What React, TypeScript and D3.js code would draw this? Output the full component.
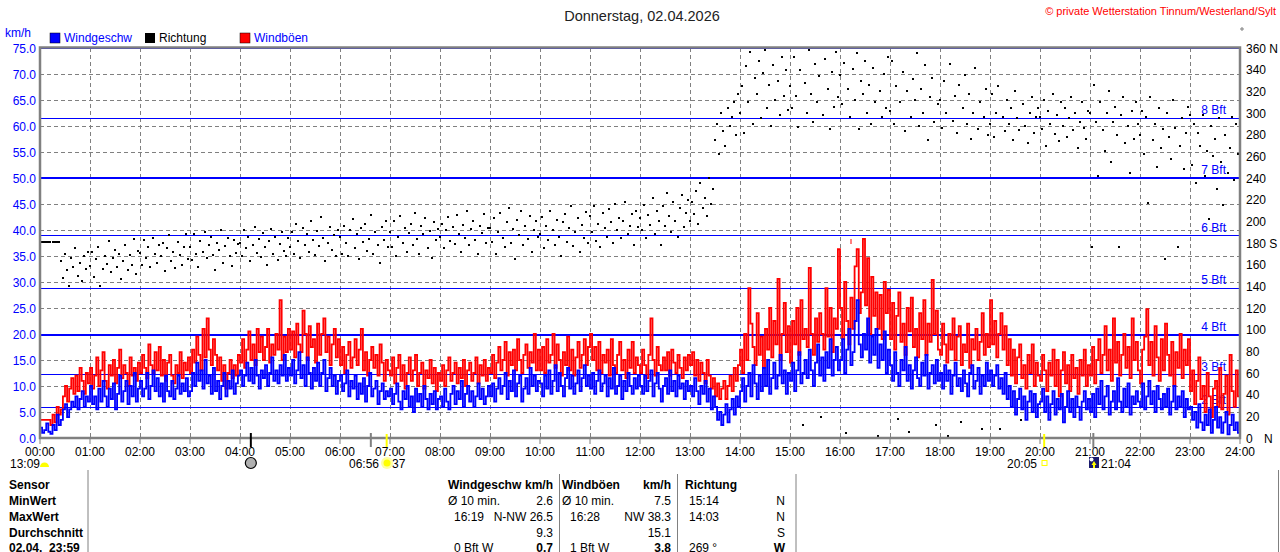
import * as d3 from "d3";

// 2.5-minute readings, 24 per hour, 00:00 .. 23:57
const windSpeed = [
  2.0, 1.0, 1.5, 2.8, 1.2, 0.8, 2.5, 1.5, 4.5, 2.5, 3.5, 5.5, 6.5, 4.0, 5.5, 7.0, 6.0, 8.0, 5.5, 7.5, 9.0, 6.0, 8.0, 7.0,
  10.0, 6.5, 8.0, 5.5, 9.5, 7.0, 11.0, 8.0, 6.0, 9.5, 7.5, 10.5, 5.5, 8.5, 12.0, 7.0, 9.0, 11.0, 6.5, 10.0, 8.0, 12.5, 7.0, 9.5,
  11.0, 8.0, 9.5, 12.5, 7.5, 10.0, 13.0, 9.0, 11.5, 8.0, 10.5, 7.0, 12.0, 9.0, 8.0, 11.0, 7.5, 9.5, 12.0, 8.5, 10.5, 9.0, 11.5, 8.0,
  9.0, 12.5, 10.0, 14.5, 11.0, 13.0, 9.5, 15.0, 10.5, 12.0, 8.5, 13.5, 9.0, 11.0, 7.5, 10.0, 12.5, 8.0, 11.0, 9.5, 13.0, 8.5, 10.5, 12.0,
  13.0, 10.0, 12.0, 14.5, 11.0, 13.5, 10.5, 15.0, 12.0, 9.5, 13.0, 11.5, 14.0, 10.0, 12.5, 15.5, 11.0, 13.0, 10.5, 14.0, 12.0, 16.0, 11.0, 13.5,
  12.0, 15.0, 10.5, 13.0, 16.5, 11.5, 14.0, 10.0, 15.5, 12.5, 9.5, 13.5, 11.0, 14.5, 10.0, 12.5, 15.0, 9.0, 11.5, 13.5, 10.0, 12.0, 8.5, 11.0,
  12.0, 9.0, 10.5, 13.0, 8.0, 11.0, 9.5, 12.0, 7.5, 10.5, 8.5, 11.5, 7.0, 10.0, 12.5, 8.0, 9.5, 11.0, 6.5, 9.0, 10.5, 7.5, 9.0, 8.0,
  9.5, 6.5, 8.5, 10.5, 7.0, 5.5, 9.0, 7.5, 10.0, 6.0, 8.0, 5.0, 9.5, 7.0, 8.5, 6.0, 10.0, 7.5, 5.5, 8.5, 6.5, 9.0, 5.5, 7.5,
  8.0, 6.0, 9.5, 7.0, 5.5, 8.5, 10.0, 6.5, 9.0, 7.5, 11.0, 6.0, 8.5, 10.0, 7.0, 9.0, 6.0, 8.0, 10.5, 7.5, 9.5, 6.5, 8.0, 10.0,
  8.0, 10.5, 7.0, 9.5, 11.5, 8.5, 10.0, 12.5, 7.5, 11.0, 9.0, 13.0, 8.0, 10.5, 12.0, 7.0, 9.5, 11.5, 8.5, 13.5, 10.0, 12.0, 9.0, 11.0,
  10.5, 8.0, 12.0, 9.5, 13.0, 8.5, 11.0, 14.0, 9.0, 12.5, 10.0, 8.0, 11.5, 13.5, 9.5, 12.0, 8.5, 10.5, 13.0, 9.0, 11.5, 14.0, 10.0, 12.0,
  9.5, 12.5, 8.5, 11.0, 13.0, 9.0, 10.5, 12.0, 8.0, 11.5, 9.5, 13.5, 8.5, 10.0, 12.0, 7.5, 11.0, 9.0, 12.5, 10.0, 8.5, 11.5, 9.5, 12.0,
  10.0, 8.5, 12.0, 9.0, 11.0, 13.0, 8.0, 10.5, 12.5, 9.5, 7.0, 10.0, 11.5, 8.5, 13.0, 9.0, 11.0, 8.0, 12.0, 9.5, 10.5, 7.5, 11.0, 9.0,
  10.0, 8.0, 11.5, 9.0, 6.5, 10.0, 8.5, 11.0, 7.0, 9.5, 5.5, 8.0, 6.0, 3.5, 5.0, 2.5, 4.5, 6.5, 3.0, 5.5, 7.5, 4.5, 8.0, 6.0,
  9.0, 11.5, 7.0, 10.0, 12.5, 8.0, 14.0, 10.5, 7.5, 12.0, 9.0, 13.5, 10.0, 15.0, 8.5, 11.5, 14.5, 9.5, 12.0, 16.0, 10.5, 13.0, 8.5, 12.5,
  11.0, 14.5, 9.0, 13.0, 16.5, 10.5, 12.5, 15.0, 11.5, 17.0, 13.0, 10.0, 14.5, 18.0, 12.0, 15.5, 11.0, 16.5, 13.5, 19.0, 12.0, 15.0, 17.5, 13.0,
  15.0, 19.0, 12.5, 17.0, 21.0, 14.0, 16.5, 22.5, 26.5, 18.0, 15.5, 20.0, 17.0, 23.0, 14.5, 19.5, 16.0, 21.0, 13.5, 18.0, 15.0, 20.5, 12.5, 17.0,
  14.0, 11.0, 16.5, 12.5, 10.0, 15.0, 13.0, 17.5, 11.0, 14.0, 9.5, 13.0, 15.5, 11.5, 10.0, 14.5, 12.0, 16.0, 9.5, 12.5, 14.0, 10.5, 15.0, 11.0,
  12.5, 9.5, 14.0, 11.0, 13.0, 8.5, 12.0, 14.5, 10.0, 11.5, 9.0, 13.0, 10.5, 8.0, 12.5, 14.0, 9.5, 11.0, 13.5, 8.5, 12.0, 10.0, 14.5, 11.0,
  13.0, 10.0, 12.0, 14.0, 9.5, 11.5, 8.5, 12.5, 7.5, 10.0, 6.0, 9.0, 4.5, 7.5, 9.5, 5.5, 8.0, 3.5, 7.0, 9.0, 5.0, 8.5, 4.0, 6.5,
  7.0, 9.5, 5.0, 8.0, 3.5, 6.5, 9.0, 4.5, 7.5, 5.5, 8.5, 3.0, 6.0, 9.0, 5.0, 7.5, 4.0, 8.0, 6.0, 3.5, 7.0, 9.0, 5.5, 7.5,
  5.0, 8.5, 4.0, 9.5, 6.5, 11.0, 5.5, 8.0, 10.0, 4.5, 7.0, 9.0, 5.5, 11.5, 7.0, 5.0, 9.5, 6.0, 10.5, 4.5, 8.0, 6.5, 9.0, 7.0,
  6.0, 10.5, 5.5, 8.0, 11.0, 6.5, 9.0, 5.0, 10.0, 7.5, 5.5, 8.5, 6.0, 9.5, 4.5, 7.0, 10.0, 5.5, 8.0, 6.0, 9.0, 4.0, 7.5, 5.5,
  6.0, 3.5, 5.0, 2.0, 6.5, 3.0, 1.5, 4.5, 2.5, 5.5, 1.0, 3.5, 6.0, 2.0, 4.0, 1.0, 3.0, 5.0, 0.7, 2.5, 4.5, 1.5, 3.0, 1.0,
];

const windGust = [
  3.5, 3.5, 3.5, 3.5, 3.5, 2.5, 4.5, 3.0, 6.0, 4.5, 5.5, 8.0, 10.0, 7.0, 9.5, 11.5, 8.5, 12.0, 9.0, 13.5, 11.0, 8.5, 12.5, 10.5,
  13.5, 9.5, 12.0, 15.5, 10.0, 13.0, 16.5, 11.0, 9.5, 14.0, 12.0, 15.0, 10.5, 13.5, 17.0, 11.5, 14.0, 12.5, 10.0, 15.5, 12.0, 13.5, 11.0, 14.5,
  12.5, 16.0, 13.5, 11.5, 18.0, 14.0, 12.5, 16.5, 13.0, 17.5, 12.0, 15.0, 11.0, 14.5, 16.0, 12.0, 10.5, 14.0, 12.5, 16.5, 11.5, 14.5, 13.0, 15.5,
  12.5, 17.0, 14.5, 19.5, 16.0, 13.0, 21.0, 15.5, 23.0, 17.0, 14.0, 19.0, 16.0, 13.0, 15.5, 11.0, 14.0, 9.5, 12.5, 15.0, 11.5, 14.0, 12.0, 16.0,
  14.5, 19.0, 13.5, 17.0, 20.5, 15.0, 18.0, 14.0, 21.0, 16.5, 19.5, 15.0, 17.5, 21.0, 14.5, 18.0, 16.0, 20.0, 17.0, 26.5, 15.0, 19.5, 16.5, 21.0,
  17.0, 20.5, 15.5, 22.0, 18.0, 16.5, 24.5, 20.0, 15.0, 21.5, 17.5, 19.0, 14.5, 22.0, 16.0, 20.0, 23.0, 16.5, 19.5, 14.0, 18.0, 21.0, 15.5, 19.0,
  14.0, 17.5, 12.5, 16.0, 18.5, 13.5, 15.5, 19.0, 14.0, 17.0, 21.0, 13.0, 16.5, 12.0, 15.0, 17.5, 13.5, 16.0, 12.0, 18.0, 14.5, 11.0, 15.0, 13.0,
  12.0, 15.5, 10.5, 13.5, 16.0, 11.0, 14.0, 9.5, 12.5, 15.5, 11.0, 13.0, 16.0, 10.0, 12.5, 14.5, 9.5, 13.0, 11.5, 15.0, 10.5, 13.5, 9.0, 12.5,
  11.0, 14.0, 10.0, 13.0, 15.5, 11.0, 12.5, 14.5, 10.5, 13.5, 11.5, 15.0, 10.0, 13.0, 14.5, 11.0, 12.5, 15.5, 10.5, 14.0, 12.0, 15.0, 11.0, 13.5,
  12.5, 16.0, 11.5, 14.5, 17.5, 13.0, 15.0, 18.5, 12.0, 16.5, 14.0, 17.0, 13.0, 19.0, 15.0, 12.5, 16.0, 18.0, 13.5, 16.5, 14.5, 20.0, 13.0, 17.0,
  13.0, 17.5, 12.5, 19.0, 14.5, 16.0, 20.0, 13.5, 18.0, 15.0, 12.0, 16.5, 14.0, 19.5, 13.0, 17.0, 12.0, 15.5, 18.5, 13.5, 16.0, 19.0, 14.0, 17.5,
  20.0, 15.0, 17.5, 13.0, 18.5, 12.5, 16.0, 14.5, 17.0, 12.0, 19.0, 14.0, 12.5, 16.0, 18.5, 13.0, 15.0, 11.5, 17.0, 13.5, 18.5, 12.5, 15.5, 14.0,
  12.5, 17.0, 14.0, 11.5, 16.0, 23.0, 15.0, 12.0, 17.5, 14.0, 13.0, 15.5, 13.0, 16.5, 12.0, 17.0, 14.5, 12.5, 16.0, 13.5, 11.5, 15.5, 13.0, 16.0,
  14.0, 16.5, 12.0, 15.0, 11.0, 14.5, 12.5, 10.5, 15.0, 12.0, 9.5, 11.5, 8.0, 10.5, 7.5, 9.5, 11.0, 7.5, 10.0, 12.0, 9.0, 13.5, 11.0, 14.0,
  17.0, 12.5, 20.0, 15.0, 28.8, 22.0, 17.5, 14.0, 24.0, 16.0, 19.5, 13.5, 21.0, 17.0, 25.0, 15.5, 22.5, 18.0, 30.6, 15.0, 20.0, 26.0, 16.5, 21.5,
  14.5, 22.5, 18.0, 25.0, 16.0, 26.5, 19.0, 21.0, 17.5, 32.7, 20.0, 16.0, 23.0, 18.5, 24.0, 20.0, 17.0, 28.8, 19.5, 25.0, 16.5, 23.0, 21.0, 36.3,
  25.0, 19.0, 30.0, 22.5, 18.0, 27.0, 21.0, 33.0, 36.3, 24.0, 28.0, 38.3, 25.5, 34.6, 20.0, 31.0, 23.5, 28.0, 21.0, 27.5, 19.0, 30.0, 24.0, 28.5,
  19.0, 26.0, 17.0, 23.5, 28.0, 18.5, 22.0, 16.0, 25.0, 20.5, 27.0, 17.5, 21.0, 15.5, 24.0, 19.0, 26.5, 16.0, 22.0, 18.5, 30.4, 20.0, 24.5, 17.0,
  16.0, 22.0, 18.0, 14.5, 20.0, 17.0, 23.0, 15.0, 19.5, 21.5, 14.0, 18.0, 16.5, 22.0, 13.5, 19.0, 17.0, 21.0, 15.0, 18.5, 24.0, 16.0, 20.0, 17.5,
  26.5, 18.0, 22.5, 15.5, 20.0, 24.0, 17.0, 21.5, 14.0, 19.0, 12.0, 17.0, 10.5, 15.5, 18.0, 11.5, 14.0, 9.5, 16.0, 12.5, 18.0, 10.0, 14.5, 12.0,
  11.0, 16.0, 13.0, 9.0, 14.5, 12.0, 17.0, 10.0, 15.0, 8.0, 13.0, 16.5, 10.5, 14.0, 9.0, 16.0, 11.5, 13.5, 8.5, 15.0, 12.0, 17.0, 10.0, 14.0,
  12.0, 17.5, 10.5, 15.0, 19.0, 12.5, 16.0, 21.5, 13.0, 17.0, 11.0, 23.0, 14.5, 18.5, 12.0, 16.0, 20.0, 13.5, 17.5, 11.5, 23.0, 15.0, 18.5, 13.0,
  10.5, 17.0, 19.5, 24.8, 14.0, 18.5, 12.0, 21.5, 15.5, 11.0, 19.0, 13.0, 22.0, 16.0, 12.0, 18.5, 10.0, 16.5, 13.5, 20.0, 11.5, 17.0, 14.0, 19.0,
  9.0, 13.0, 6.5, 11.0, 15.5, 7.5, 10.0, 5.0, 12.5, 8.0, 4.0, 9.5, 11.0, 6.0, 13.5, 5.5, 8.5, 12.0, 4.5, 16.0, 9.0, 6.0, 13.0, 8.0,
];

// degrees
const windDir = [
  181, 181, 181, 181, 181, 181, 181, 181, 181, 181, 163, 148, 170, 155, 140, 166, 158, 175, 150, 162, 145, 168, 156, 172,
  159, 172, 149, 165, 176, 140, 156, 168, 161, 182, 153, 166, 174, 158, 170, 147, 163, 178, 155, 169, 160, 184, 151, 173,
  171, 160, 183, 166, 176, 158, 185, 170, 162, 178, 168, 180, 154, 175, 187, 163, 172, 157, 181, 169, 160, 176, 188, 165,
  176, 164, 188, 170, 158, 182, 172, 190, 166, 178, 186, 169, 155, 180, 174, 192, 162, 177, 185, 168, 159, 183, 171, 179,
  180, 168, 192, 175, 186, 163, 178, 195, 171, 184, 167, 189, 176, 160, 182, 193, 170, 186, 164, 179, 190, 173, 168, 185,
  176, 190, 170, 198, 182, 166, 194, 178, 188, 172, 200, 183, 169, 191, 177, 204, 185, 163, 180, 195, 174, 187, 168, 192,
  186, 170, 196, 180, 168, 192, 202, 175, 188, 165, 194, 181, 198, 173, 184, 206, 170, 190, 178, 162, 195, 183, 200, 176,
  190, 176, 200, 168, 186, 205, 180, 194, 172, 189, 198, 178, 208, 184, 170, 196, 188, 203, 175, 191, 166, 199, 183, 193,
  186, 198, 175, 192, 204, 182, 195, 179, 206, 188, 172, 197, 185, 210, 178, 193, 200, 183, 170, 196, 189, 207, 180, 194,
  194, 181, 203, 170, 190, 208, 185, 176, 199, 212, 180, 193, 165, 201, 187, 210, 178, 196, 184, 205, 172, 192, 200, 186,
  188, 204, 175, 196, 183, 210, 192, 178, 201, 186, 168, 199, 207, 181, 194, 214, 177, 190, 203, 172, 197, 185, 209, 180,
  205, 190, 214, 182, 198, 176, 208, 194, 186, 211, 199, 180, 216, 192, 203, 185, 200, 218, 188, 196, 207, 178, 210, 195,
  203, 192, 215, 185, 206, 197, 222, 188, 210, 200, 178, 214, 196, 226, 205, 190, 218, 200, 186, 212, 224, 195, 208, 220,
  200, 218, 207, 228, 198, 235, 212, 222, 205, 240, 216, 230, 275, 290, 262, 300, 283, 270, 305, 288, 296, 310, 280, 318,
  300, 325, 282, 343, 310, 356, 290, 332, 318, 348, 295, 337, 358, 305, 326, 288, 344, 312, 330, 298, 352, 316, 340, 303,
  325, 305, 352, 316, 287, 340, 12, 328, 300, 358, 318, 292, 345, 310, 334, 19, 298, 350, 322, 285, 338, 306, 356, 315,
  335, 308, 346, 5, 322, 296, 341, 312, 355, 285, 330, 318, 348, 300, 326, 290, 342, 310, 2, 320, 296, 336, 305, 352,
  302, 348, 290, 325, 18, 310, 338, 283, 320, 6, 296, 331, 312, 355, 288, 322, 300, 344, 275, 315, 332, 292, 12, 308,
  312, 286, 330, 300, 2, 345, 293, 316, 282, 326, 15, 305, 335, 290, 318, 276, 300, 342, 285, 310, 8, 296, 322, 280,
  290, 318, 278, 300, 325, 8, 296, 283, 312, 290, 305, 275, 320, 295, 284, 17, 308, 288, 272, 300, 315, 282, 296, 305,
  296, 285, 312, 270, 302, 290, 318, 281, 298, 274, 310, 288, 305, 278, 295, 315, 284, 300, 268, 292, 310, 286, 276, 302,
  300, 176, 326, 292, 242, 310, 284, 265, 300, 320, 255, 292, 306, 280, 176, 298, 315, 272, 288, 245, 302, 276, 310, 290,
  280, 302, 262, 296, 217, 315, 275, 290, 250, 305, 268, 285, 165, 300, 278, 258, 312, 286, 176, 270, 295, 248, 282, 306,
  298, 252, 290, 235, 282, 270, 298, 242, 265, 202, 288, 260, 276, 230, 295, 255, 215, 280, 245, 268, 296, 238, 290, 262,
];

const hours = d3.range(0, 25);
const kmhTicks = d3.range(0, 76, 5);
const dirTicks = d3.range(0, 361, 20);
const bftLevels = [2, 3, 4, 5, 6, 7, 8, 9];
const bftKmh = [5.8, 12.2, 19.8, 28.8, 38.9, 50.0, 61.5, 74.9];

const tableLabels = ["Sensor", "MinWert", "MaxWert", "Durchschnitt", "02.04.  23:59"];
const speedLeft = ["Ø 10 min.", "16:19", "", "0 Bft W"];
const speedRight = ["2.6", "N-NW 26.5", "9.3", "0.7"];
const gustLeft = ["Ø 10 min.", "16:28", "", "1 Bft W"];
const gustRight = ["7.5", "NW 38.3", "15.1", "3.8"];
const dirLeft = ["15:14", "14:03", "", "269 °"];
const dirRight = ["N", "N", "S", "W"];

const FONT = "'Liberation Sans', Arial, sans-serif";
const GRID = "#808080";
const STEP = 2.5; // minutes between readings

export default function App() {
  const x = d3.scaleLinear().domain([0, 1440]).range([40, 1240]);
  const y = d3.scaleLinear().domain([0, 75]).range([438, 48]);
  const yd = d3.scaleLinear().domain([0, 360]).range([438, 48]);

  const line = d3
    .line<number>()
    .x((_, i) => x(Math.min(i * STEP, 1440)))
    .y((d) => y(d))
    .curve(d3.curveStepAfter);

  // repeat last reading so the step runs to 24:00
  const ext = (a: number[]) => [...a, a[a.length - 1]];

  const rowY = [489, 505, 521, 537, 552];

  return (
    <svg
      width={1280}
      height={552}
      style={{ position: "absolute", left: 0, top: 0, background: "#fff" }}
      fontFamily={FONT}
    >
      {/* title */}
      <text x={642} y={21} textAnchor="middle" fontSize={14.5} fill="#222">
        Donnerstag, 02.04.2026
      </text>
      <text x={1276} y={15} textAnchor="end" fontSize={11} fill="#ff0000">
        © private Wetterstation Tinnum/Westerland/Sylt
      </text>
      <circle cx={1242} cy={29} r={1.2} fill="none" stroke="#555" strokeWidth={0.8} />

      {/* legend */}
      <text x={5} y={37} fontSize={12} fill="#0000ff">km/h</text>
      <rect x={50} y={33} width={10} height={10} fill="#0000ff" stroke="#000" strokeWidth={0.5} />
      <text x={64} y={42} fontSize={12} fill="#0000ff">Windgeschw</text>
      <rect x={145} y={33} width={10} height={10} fill="#000" />
      <text x={159} y={42} fontSize={12} fill="#000">Richtung</text>
      <rect x={240} y={33} width={10} height={10} fill="#ff0000" stroke="#000" strokeWidth={0.5} />
      <text x={254} y={42} fontSize={12} fill="#0000ff">Windböen</text>

      {/* grid */}
      <g shapeRendering="crispEdges">
        {kmhTicks.slice(1, -1).map((v) => (
          <line key={"h" + v} x1={40} x2={1240} y1={y(v)} y2={y(v)} stroke={GRID} strokeDasharray="4,3" />
        ))}
        {hours.slice(1, -1).map((h) => (
          <line key={"v" + h} x1={x(h * 60)} x2={x(h * 60)} y1={48} y2={438} stroke={GRID} strokeDasharray="4,3" />
        ))}
      </g>

      {/* Beaufort lines */}
      {bftKmh.map((v, i) => (
        <g key={"b" + i}>
          <line x1={40} x2={1240} y1={y(v)} y2={y(v)} stroke="#0000ff" strokeWidth={1.3} shapeRendering="crispEdges" />
          {bftLevels[i] < 9 && (
            <text x={1226} y={y(v) - 4} textAnchor="end" fontSize={12} fill="#0000ff">
              {bftLevels[i]} Bft
            </text>
          )}
        </g>
      ))}

      {/* series */}
      <path d={line(ext(windGust)) ?? ""} fill="none" stroke="#ff0000" strokeWidth={1.8} />
      <path d={line(ext(windSpeed)) ?? ""} fill="none" stroke="#0000ff" strokeWidth={1.8} />
      <g shapeRendering="crispEdges">
        {windDir.map((d, i) => (
          <rect key={"d" + i} x={x(i * STEP) - 1} y={yd(d) - 1} width={2} height={2} fill="#000" />
        ))}
      </g>
      <line x1={851} x2={851} y1={239} y2={244} stroke="#ff0000" strokeWidth={1} />

      {/* frame */}
      <rect x={40} y={47.5} width={1200} height={390.5} fill="none" stroke={GRID} strokeWidth={2.5} />

      {/* left axis */}
      {kmhTicks.map((v) => (
        <text key={"l" + v} x={36} y={y(v) + 4.5} textAnchor="end" fontSize={12} fill="#0000ff">
          {v.toFixed(1)}
        </text>
      ))}
      {/* right axis */}
      {dirTicks.map((v) => (
        <text key={"r" + v} x={1246} y={yd(v) + 4.5} fontSize={12} fill="#000">
          {v === 360 ? "360 N" : v === 180 ? "180 S" : v === 0 ? "0" : String(v)}
        </text>
      ))}
      <text x={1264} y={yd(0) + 4.5} fontSize={12} fill="#000">N</text>

      {/* time axis */}
      {hours.map((h) => (
        <g key={"t" + h}>
          <line x1={x(h * 60)} x2={x(h * 60)} y1={439} y2={444} stroke={GRID} />
          <text x={x(h * 60)} y={456} textAnchor="middle" fontSize={12} fill="#000">
            {String(h).padStart(2, "0")}:00
          </text>
        </g>
      ))}

      {/* sun / moon markers */}
      <line x1={x(253)} x2={x(253)} y1={433} y2={447} stroke="#000" strokeWidth={2} />
      <line x1={x(397)} x2={x(397)} y1={433} y2={447} stroke={GRID} strokeWidth={2} />
      <line x1={x(416)} x2={x(416)} y1={434} y2={447} stroke="#ffff00" strokeWidth={2} />
      <line x1={x(1205)} x2={x(1205)} y1={434} y2={447} stroke="#ffff00" strokeWidth={2} />
      <line x1={x(1264)} x2={x(1264)} y1={433} y2={448} stroke={GRID} strokeWidth={2} />

      <g fontSize={12} fill="#000">
        <text x={10} y={468}>13:09</text>
        <text x={379} y={468} textAnchor="end">06:56</text>
        <text x={392} y={468}>37</text>
        <text x={1037} y={468} textAnchor="end">20:05</text>
        <text x={1101} y={468}>21:04</text>
      </g>
      <path d="M40,467 A4.5,4.5 0 0 1 49,467 Z" fill="#ffff00" />
      <circle cx={x(253)} cy={463} r={5.5} fill="#b0b0b0" stroke="#000" strokeWidth={1.2} />
      <circle cx={387} cy={463} r={6} fill="#ffffa0" />
      <circle cx={387} cy={463} r={3.5} fill="#ffff00" />
      <rect x={1042} y={460.5} width={5} height={5} fill="none" stroke="#ffff00" strokeWidth={1} />
      <rect x={1089} y={457} width={10} height={11} fill="#1a1a6e" />
      <circle cx={1091.5} cy={459.5} r={2} fill="#fff" />
      <path d="M1094,461 L1096.5,465 L1095,465 L1095,468 L1093,468 L1093,465 L1091.5,465 Z" fill="#ffff00" />

      {/* table */}
      <line x1={88} x2={88} y1={470} y2={552} stroke={GRID} />
      <line x1={559.5} x2={559.5} y1={474} y2={552} stroke={GRID} />
      <line x1={677.5} x2={677.5} y1={474} y2={552} stroke={GRID} />
      <line x1={796} x2={796} y1={474} y2={552} stroke={GRID} />
      <line x1={1278.5} x2={1278.5} y1={470} y2={552} stroke={GRID} />
      {tableLabels.map((t, i) => (
        <text key={"tl" + i} x={9} y={rowY[i]} fontSize={12} fontWeight="bold" fill="#000" style={{ whiteSpace: "pre" }}>
          {t}
        </text>
      ))}
      <text x={448} y={rowY[0]} fontSize={12} fontWeight="bold">Windgeschw</text>
      <text x={553} y={rowY[0]} textAnchor="end" fontSize={12} fontWeight="bold">km/h</text>
      <text x={562} y={rowY[0]} fontSize={12} fontWeight="bold">Windböen</text>
      <text x={671} y={rowY[0]} textAnchor="end" fontSize={12} fontWeight="bold">km/h</text>
      <text x={685} y={rowY[0]} fontSize={12} fontWeight="bold">Richtung</text>
      {speedLeft.map((t, i) => (
        <g key={"s" + i} fontSize={12}>
          <text x={i === 0 ? 448 : 454} y={rowY[i + 1]}>{t}</text>
          <text x={553} y={rowY[i + 1]} textAnchor="end" fontWeight={i === 3 ? "bold" : "normal"}>
            {speedRight[i]}
          </text>
          <text x={i === 0 ? 562 : 570} y={rowY[i + 1]}>{gustLeft[i]}</text>
          <text x={671} y={rowY[i + 1]} textAnchor="end" fontWeight={i === 3 ? "bold" : "normal"}>
            {gustRight[i]}
          </text>
          <text x={689} y={rowY[i + 1]}>{dirLeft[i]}</text>
          <text x={785} y={rowY[i + 1]} textAnchor="end" fontWeight={i === 3 ? "bold" : "normal"}>
            {dirRight[i]}
          </text>
        </g>
      ))}
    </svg>
  );
}
